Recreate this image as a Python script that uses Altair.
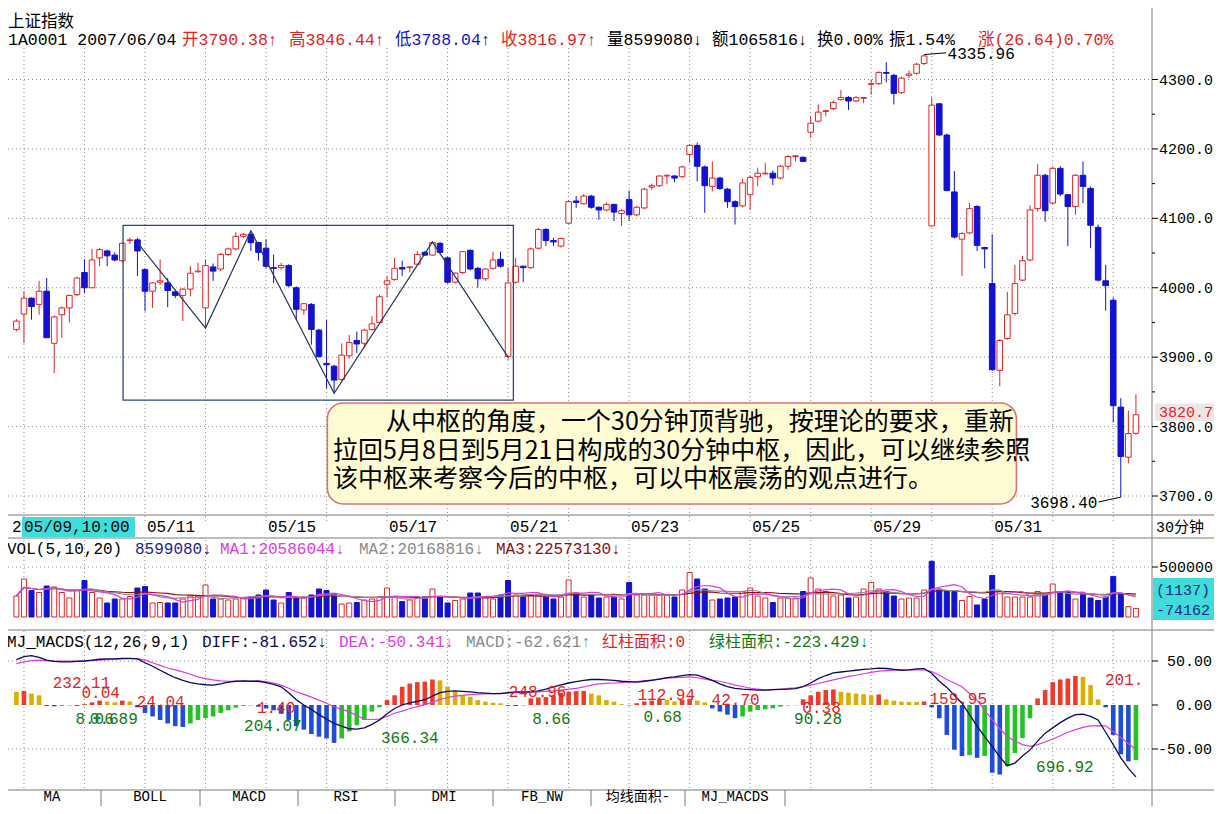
import altair as alt
import pandas as pd
import numpy as np

# ------------------------------------------------------------------ data
opens = [3940, 3962, 3985, 3976, 3995, 3920, 3961, 3971, 3990, 4022,
         4000, 4043, 4053, 4047, 4039, 4068, 4069, 4026, 3995, 4008,
         4007, 3994, 3989, 3998, 4023, 3971, 4030, 4027, 4048, 4056,
         4074, 4077, 4065, 4057, 4029, 4029, 4032, 4000, 3968, 3976,
         3939, 3891, 3887, 3868, 3902, 3924, 3920, 3940, 3950, 4005,
         4012, 4029, 4029, 4034, 4051, 4047, 4064, 4043, 4008, 4022,
         4054, 4028, 4013, 4028, 4041, 3901, 4008, 4031, 4029, 4057,
         4084, 4068, 4060, 4093, 4125, 4121, 4132, 4116, 4112, 4120,
         4107, 4127, 4105, 4115, 4145, 4147, 4161, 4161, 4160, 4192,
         4205, 4174, 4146, 4158, 4142, 4124, 4118, 4134, 4160, 4164,
         4165, 4158, 4175, 4189, 4188, 4224, 4240, 4254, 4258, 4271,
         4274, 4269, 4273, 4293, 4294, 4310, 4306, 4281, 4306, 4309,
         4323, 4089, 4265, 4220, 4138, 4070, 4079, 4117, 4058, 4006,
         3881, 3927, 3963, 4011, 4040, 4114, 4162, 4122, 4172, 4134,
         4117, 4162, 4143, 4087, 4010, 3982, 3828, 3756, 3790.38]
highs = [3955, 3995, 3986, 4010, 4014, 3960, 3973, 3990, 4016, 4041,
         4056, 4057, 4055, 4051, 4066, 4072, 4072, 4028, 4008, 4041,
         4014, 3997, 4000, 4031, 4036, 4041, 4035, 4050, 4058, 4080,
         4079, 4082, 4066, 4070, 4048, 4036, 4034, 4002, 3978, 3978,
         3941, 3954, 3889, 3920, 3932, 3937, 3941, 3959, 3990, 4017,
         4043, 4039, 4031, 4053, 4053, 4066, 4066, 4045, 4022, 4053,
         4055, 4030, 4028, 4052, 4052, 4029, 4043, 4032, 4058, 4086,
         4086, 4072, 4072, 4126, 4132, 4135, 4134, 4117, 4123, 4121,
         4113, 4140, 4118, 4144, 4150, 4162, 4163, 4162, 4176, 4207,
         4209, 4176, 4182, 4160, 4144, 4126, 4157, 4162, 4173, 4180,
         4169, 4177, 4191, 4191, 4189, 4247, 4264, 4256, 4270, 4285,
         4276, 4276, 4275, 4300, 4312, 4325, 4308, 4304, 4313, 4324,
         4335.96, 4274, 4266, 4222, 4168, 4080, 4122, 4119, 4059, 4077,
         3926, 3994, 4033, 4046, 4119, 4178, 4164, 4175, 4175, 4135,
         4164, 4182, 4146, 4091, 4033, 3986, 3841, 3823, 3846.44]
lows = [3937, 3920, 3954, 3961, 3928, 3877, 3928, 3950, 3988, 3992,
        4000, 4031, 4031, 4038, 4036, 4063, 4017, 3966, 3971, 4004,
        3972, 3985, 3952, 3988, 4022, 3942, 4010, 4024, 4046, 4054,
        4072, 4053, 4039, 4028, 4007, 4026, 4001, 3954, 3961, 3918,
        3899, 3855, 3848, 3866, 3898, 3906, 3913, 3938, 3949, 3986,
        4010, 4017, 4022, 4032, 4046, 4046, 4049, 4006, 4006, 4020,
        4025, 4000, 4010, 4026, 4029, 3896, 4006, 4008, 4027, 4055,
        4060, 4060, 4058, 4092, 4115, 4120, 4114, 4098, 4110, 4096,
        4089, 4096, 4103, 4113, 4141, 4145, 4149, 4152, 4158, 4180,
        4153, 4108, 4139, 4141, 4115, 4091, 4116, 4112, 4146, 4163,
        4148, 4156, 4170, 4182, 4181, 4216, 4238, 4247, 4256, 4270,
        4256, 4267, 4266, 4278, 4292, 4296, 4264, 4279, 4302, 4307,
        4321, 4088, 4219, 4139, 4071, 4017, 4077, 4053, 4028, 3880,
        3858, 3925, 3960, 4009, 4038, 4110, 4095, 4120, 4132, 4060,
        4105, 4122, 4057, 4009, 3967, 3806, 3698.40, 3747, 3788.04]
closes = [3952, 3985, 3973, 3995, 3928, 3958, 3971, 3989, 4014, 4000,
          4040, 4055, 4046, 4040, 4064, 4069, 4053, 3995, 4007, 4010,
          3996, 3989, 3998, 4021, 4024, 4032, 4024, 4048, 4056, 4074,
          4077, 4065, 4051, 4031, 4028, 4032, 4003, 3969, 3977, 3940,
          3901, 3889, 3867, 3903, 3921, 3919, 3939, 3948, 3987, 4010,
          4028, 4027, 4030, 4048, 4047, 4065, 4051, 4008, 4021, 4052,
          4027, 4013, 4027, 4040, 4031, 4007, 4031, 4029, 4056, 4084,
          4068, 4066, 4071, 4124, 4123, 4132, 4116, 4112, 4120, 4109,
          4111, 4105, 4116, 4142, 4147, 4161, 4162, 4158, 4174, 4205,
          4175, 4147, 4158, 4143, 4124, 4117, 4151, 4159, 4165, 4165,
          4158, 4175, 4189, 4190, 4182, 4237, 4253, 4255, 4267, 4274,
          4269, 4274, 4274, 4294, 4310, 4309, 4280, 4302, 4308, 4322,
          4334, 4263, 4220, 4140, 4073, 4078, 4114, 4061, 4056, 3882,
          3924, 3961, 4006, 4039, 4112, 4162, 4111, 4172, 4135, 4117,
          4162, 4146, 4090, 4011, 4003, 3830, 3757, 3790, 3816.97]
# volume in units of 10,000 lots
vol_10k = [21, 38, 26.5, 24.5, 31, 30, 24.5, 19, 26.5, 36.5,
           24.5, 19, 14, 18, 18, 20.5, 29, 30.5, 14, 14.5,
           14, 14, 18, 21, 21, 32, 18, 18, 17, 18,
           19, 20, 22, 27, 17, 14, 24.5, 19, 20, 22,
           28, 26.5, 23, 13, 14, 14.5, 17, 18, 20, 29,
           20, 15.5, 17, 20, 20, 28, 20, 14, 16.5, 18,
           24, 24, 20, 18, 22, 36.5, 22, 20, 22, 22,
           20, 18, 20, 37, 24, 20, 22, 19, 20, 20,
           18, 34.5, 22, 22, 22, 22, 22, 20, 27, 44.5,
           38, 28, 17, 18, 19, 20, 25.5, 29, 21, 19,
           14.5, 19, 19, 19, 25.5, 39, 28, 25.5, 21, 22,
           19, 20, 28, 34.5, 28, 25.5, 21, 18, 19, 19,
           27, 55.7, 28, 25.5, 25.5, 16.5, 20.5, 12, 18, 41.6,
           25.5, 20, 20, 20, 20, 25.5, 22, 33, 25.5, 24.5,
           18, 23, 19, 16.5, 20, 40.6, 23, 10.4, 8.6]
diff_vals = [51.5, 55, 56, 54, 51, 49.5, 49, 49, 49.5, 50,
             51, 52, 52.5, 52.5, 53, 53, 52.5, 48, 44, 39.5,
             35, 31, 28, 25.5, 24, 23, 22.6, 24, 26, 27,
             27.5, 27, 27, 25.5, 23.5, 20.7, 14, 6, 0, -5,
             -11, -16, -21, -24, -27, -27.5, -26, -22, -17, -10,
             -4, 0, 2.5, 4, 6, 10, 14, 15.5, 16, 15.5,
             15, 14, 13.5, 13, 13, 14, 15, 15, 15, 16,
             18, 20.7, 23, 25, 26.5, 28, 29, 29, 28.5, 28,
             27, 26.5, 26, 27, 28, 29.5, 31, 32, 33.5, 34.6,
             34, 31, 28, 24, 21, 19, 18, 17.5, 17, 17,
             17.5, 17.7, 18, 18.5, 21, 25, 30, 33.5, 36.5, 37.5,
             38.5, 39.5, 40.5, 41, 42, 41.5, 40.5, 39.5, 40, 41,
             41.4, 36, 27, 20, 11, 2, -11, -24, -36, -47,
             -59, -69, -66, -58, -51, -41, -32, -26, -20, -15,
             -11, -10.5, -13, -17, -31, -45, -60, -72, -81.652]
dea_vals = [47, 49, 50.5, 51, 50.5, 50, 50, 50, 50, 50,
            50.5, 51, 51.5, 52, 52.5, 52.6, 52.6, 51, 48, 45,
            42, 40, 37.6, 35, 32, 30, 28.5, 27.5, 27, 27,
            27, 27, 27.4, 26.5, 25, 22.6, 19, 15, 12, 9,
            5.6, 2, -2, -5, -7.5, -12, -16, -16.5, -16, -13,
            -9.4, -7, -4, -1.9, 0.5, 3, 6.4, 8.5, 10, 11,
            11.8, 12.4, 12.7, 13, 13.3, 13.6, 14, 14.3, 14.6, 15,
            15.5, 16, 17, 18, 18.8, 20.5, 22.6, 24, 24.5, 25,
            25.5, 26, 26.5, 27.5, 28.5, 29.5, 30.5, 31, 31.5, 32,
            31, 29.5, 28, 27, 25, 22.6, 21, 19, 18, 17,
            17.5, 18, 18.8, 19.6, 21, 22.5, 24.4, 26.5, 28.5, 30.5,
            32.5, 33.8, 35.5, 37, 38.5, 39, 39.5, 39.8, 40, 40,
            40, 38, 33.8, 29, 25, 20.7, 13, 5.6, -6, -17,
            -27, -35.7, -41, -45, -47, -45, -42, -38.7, -35, -31,
            -28, -25.5, -23.7, -23.5, -23.7, -30, -37, -44, -50.341]
macd_vals = [15, 16, 13, 11, -1, -1.5, -1, -0.5, -1, 1,
             3, 5, 4, 3, 5, 4, -2.6, -9, -13, -17,
             -21, -24, -25, -21, -17, -15, -13, -9, -6, -3,
             -1, -0.5, -2, -4, -6, -10, -17, -24, -28, -33,
             -36, -38, -43, -38, -30, -23, -17, -7.5, -2.6, 5.6,
             11, 20.7, 24.4, 26, 26.5, 29, 28, 21, 15, 11,
             9.4, 5.6, 3.8, 2.6, 1.9, -1, -1.2, -0.5, 7.5, 8.6,
             9, 11, 14, 15, 15.8, 16, 13, 11, 5.6, 3.8,
             1, -0.5, 2, 4, 5, 6, 5.6, 4, 6, 7,
             5, 3, -3.8, -7.5, -11, -15, -13, -7.5, -5.6, -4.9,
             -3.8, -1.9, -0.5, -0.3, 6.4, 11, 15, 17, 17.7, 15,
             14, 13, 12.4, 11, 12, 6.4, 4.9, 3.8, 3.6, 3.5,
             4, -2.6, -15, -34, -50.8, -58, -57, -60, -58, -77,
             -79, -69.6, -54.5, -37.6, -15, 7.5, 17, 26, 29, 30,
             33, 32, 22.6, 6.4, -2.6, -34, -56, -64, -62.621]

day_starts = [1, 9, 17, 25, 33, 41, 49, 57, 65, 73, 81, 89, 97, 105, 113, 121, 129, 137, 145]
date_tick_idx = [17, 33, 49, 65, 81, 97, 113, 129]
date_tick_labels = ["05/11", "05/15", "05/17", "05/21", "05/23", "05/25", "05/29", "05/31"]
price_ticks = [3700, 3800, 3900, 4000, 4100, 4200, 4300]
price_tick_labels = ["3700.0", "3800.0", "3900.0", "4000.0", "4100.0", "4200.0", "4300.0"]
price_minor = [3750, 3850, 3950, 4050, 4150, 4250]
vol_ticks = [500000]
vol_tick_labels = ["500000"]
macd_ticks = [50, 0, -50]
macd_tick_labels = ["50.00", "0.00", "-50.00"]

zig_idx = [16, 25, 31, 42, 55, 65]
zig_price = [4065, 3942, 4082, 3848, 4066, 3900]
box_idx = [14.1, 65.7]
box_price = [4090, 3838]
callout_idx = [41.1, 132.2]
callout_price = [3834, 3688.5]
callout_lines = ["从中枢的角度，一个30分钟顶背驰，按理论的要求，重新",
                 "拉回5月8日到5月21日构成的30分钟中枢，因此，可以继续参照",
                 "该中枢来考察今后的中枢，可以中枢震荡的观点进行。"]

hi_idx, hi_price, hi_label = 120, 4335.96, "4335.96"
lo_idx, lo_price, lo_label = 146, 3698.40, "3698.40"
last_price, last_label = 3820.71, "3820.7"

area_labels = ["232.11", "0.04", "24.04", "8.06", "0.689", "1.40", "204.07", "366.34",
               "248.96", "8.66", "112.94", "0.68", "42.70", "0.38", "90.28", "159.95",
               "696.92", "201."]
area_idx = [4.8, 8.6, 15.9, 7.8, 9.7, 31.8, 30.1, 48.2,
            65.1, 68.2, 82.1, 82.9, 91.9, 103.9, 102.8, 120.7,
            134.8, 143.9]
area_val = [25, 13.6, 3.4, -15.9, -15.9, -3.4, -23.9, -37.5,
            14.8, -15.9, 11.4, -13.6, 5.7, -3.4, -15.9, 6.8,
            -70.5, 28.4]
area_kind = ["r", "r", "r", "g", "g", "r", "g", "g",
             "r", "g", "r", "g", "r", "r", "g", "r",
             "g", "r"]

header_segments = ["1A0001 2007/06/04", "开3790.38↑", "高3846.44↑", "低3788.04↑", "收3816.97↑",
                   "量8599080↓", "额1065816↓", "换0.00%", "振1.54%", "涨(26.64)0.70%"]
vol_title = ["VOL(5,10,20)", "8599080↓", "MA1:20586044↓", "MA2:20168816↓", "MA3:22573130↓"]
macd_title = ["MJ_MACDS(12,26,9,1)", "DIFF:-81.652↓", "DEA:-50.341↓", "MACD:-62.621↑",
              "红柱面积:0", "绿柱面积:-223.429↓"]
tabs = ["MA", "BOLL", "MACD", "RSI", "DMI", "FB_NW", "均线面积-", "MJ_MACDS"]

# ------------------------------------------------------------------ style
RED = "#E82222"
BLUE = "#1212D0"
MRED = "#F03A2A"
MGOLD = "#DDAE00"
MBLUE = "#1E4CDC"
MGREEN = "#22C322"
NAVY = "#0A0A60"
MAG = "#E23AE2"
GRID = "#8C8C8C"
FRAME = "#7A7A7A"
MONO = "Liberation Mono, Noto Sans CJK SC"
CJK = "Noto Sans CJK SC"

W, H = 1206, 798
N = len(closes)
X0, STEP = 3.4, 7.632
xs = alt.Scale(domain=[0, N - 1], range=[X0, X0 + STEP * (N - 1)], nice=False, zero=False)
ps = alt.Scale(domain=[3700, 4300], range=[488, 71.5], nice=False, zero=False)
vs = alt.Scale(domain=[0, 500000], range=[609, 559], nice=False, zero=False)
ms = alt.Scale(domain=[-50, 50], range=[741, 653], nice=False, zero=False)
XI = alt.X("i:Q", scale=xs, axis=None)

ONE = pd.DataFrame({"k": [0]})


def T(s, x, y, color="#000000", size=16, font=MONO, align="left", baseline="middle"):
    return alt.Chart(ONE).mark_text(text=s, align=align, baseline=baseline, font=font,
                                    fontSize=size, color=color).encode(
        x=alt.value(x - 8), y=alt.value(y - 8))


def HR(y, x1, x2, color=FRAME, w=1):
    return alt.Chart(ONE).mark_rule(color=color, strokeWidth=w).encode(
        x=alt.value(x1 - 8), x2=alt.value(x2 - 8), y=alt.value(y - 8))


def VR(x, y1, y2, color=FRAME, w=1):
    return alt.Chart(ONE).mark_rule(color=color, strokeWidth=w).encode(
        x=alt.value(x - 8), y=alt.value(y1 - 8), y2=alt.value(y2 - 8))


def RECT(x1, y1, x2, y2, fill, stroke=None, sw=1):
    kw = dict(fill=fill)
    if stroke:
        kw.update(stroke=stroke, strokeWidth=sw)
    return alt.Chart(ONE).mark_rect(**kw).encode(
        x=alt.value(x1 - 8), x2=alt.value(x2 - 8), y=alt.value(y1 - 8), y2=alt.value(y2 - 8))


# ------------------------------------------------------------------ frames
df = pd.DataFrame({"i": range(N), "o": opens, "h": highs, "l": lows, "c": closes,
                   "vol": np.array(vol_10k) * 10000, "diff": diff_vals, "dea": dea_vals,
                   "macd": macd_vals})
up = df.c >= df.o
df["col"] = np.where(up, RED, BLUE)
df["fil"] = np.where(up, "#FFFFFF", BLUE)
prev_c = df.c.shift(1).fillna(df.o)
vup = df.c >= prev_c
df["vcol"] = np.where(vup, RED, BLUE)
df["vfil"] = np.where(vup, "#FFFFFF", BLUE)
prev_m = df.macd.shift(1).fillna(df.macd + 1)
df["mcol"] = np.where(df.macd >= 0, np.where(df.macd >= prev_m, MRED, MGOLD),
                      np.where(df.macd <= prev_m, MBLUE, MGREEN))

layers = []

# grids
days = pd.DataFrame({"i": day_starts})
for (a, b) in [(48, 515), (516, 522), (540, 618), (631, 790)]:
    layers.append(alt.Chart(days).mark_rule(color=GRID, strokeDash=[1, 3]).encode(
        x=XI, y=alt.value(a - 8), y2=alt.value(b - 8)))
pt = pd.DataFrame({"p": price_ticks, "t": price_tick_labels})
layers.append(alt.Chart(pt).mark_rule(color=GRID, strokeDash=[1, 3]).encode(
    y=alt.Y("p:Q", scale=ps, axis=None), x=alt.value(0), x2=alt.value(1143)))
vt = pd.DataFrame({"v": vol_ticks, "t": vol_tick_labels})
layers.append(alt.Chart(vt).mark_rule(color=GRID, strokeDash=[1, 3]).encode(
    y=alt.Y("v:Q", scale=vs, axis=None), x=alt.value(0), x2=alt.value(1143)))
mt = pd.DataFrame({"m": macd_ticks, "t": macd_tick_labels})
layers.append(alt.Chart(mt[mt.m != 0]).mark_rule(color=GRID, strokeDash=[1, 3]).encode(
    y=alt.Y("m:Q", scale=ms, axis=None), x=alt.value(0), x2=alt.value(1143)))

# candles
layers.append(alt.Chart(df).mark_rule(strokeWidth=1).encode(
    x=XI, y=alt.Y("l:Q", scale=ps, axis=None), y2="h:Q", color=alt.Color("col:N", scale=None)))
layers.append(alt.Chart(df).mark_bar(size=5.6, strokeWidth=1).encode(
    x=XI, y=alt.Y("o:Q", scale=ps, axis=None), y2="c:Q",
    fill=alt.Fill("fil:N", scale=None), stroke=alt.Stroke("col:N", scale=None)))

# zigzag and box
zz = pd.DataFrame({"i": zig_idx, "p": zig_price})
layers.append(alt.Chart(zz).mark_line(color="#25355F", strokeWidth=1.2).encode(
    x=XI, y=alt.Y("p:Q", scale=ps, axis=None), order="i:Q"))
bx = pd.DataFrame({"i1": [box_idx[0]], "i2": [box_idx[1]], "p1": [box_price[0]], "p2": [box_price[1]]})
layers.append(alt.Chart(bx).mark_rect(fillOpacity=0, stroke="#2C4A78", strokeWidth=1.3).encode(
    x=alt.X("i1:Q", scale=xs, axis=None), x2="i2:Q",
    y=alt.Y("p1:Q", scale=ps, axis=None), y2="p2:Q"))

# high / low annotations
hl = pd.DataFrame({"i": [hi_idx, hi_idx + 2.9], "p": [hi_price, hi_price + 2.5]})
layers.append(alt.Chart(hl).mark_line(color="#000000", strokeWidth=1).encode(
    x=XI, y=alt.Y("p:Q", scale=ps, axis=None)))
layers.append(alt.Chart(pd.DataFrame({"i": [hi_idx + 3.1], "p": [hi_price + 1], "t": [hi_label]}))
              .mark_text(align="left", baseline="middle", font=MONO, fontSize=16, color="#000000")
              .encode(x=XI, y=alt.Y("p:Q", scale=ps, axis=None), text="t:N"))
ll = pd.DataFrame({"i": [lo_idx - 2.95, lo_idx], "p": [lo_price - 7, lo_price]})
layers.append(alt.Chart(ll).mark_line(color="#000000", strokeWidth=1).encode(
    x=XI, y=alt.Y("p:Q", scale=ps, axis=None)))
layers.append(alt.Chart(pd.DataFrame({"i": [lo_idx - 3.1], "p": [lo_price - 9], "t": [lo_label]}))
              .mark_text(align="right", baseline="middle", font=MONO, fontSize=16, color="#000000")
              .encode(x=XI, y=alt.Y("p:Q", scale=ps, axis=None), text="t:N"))

# callout
co = pd.DataFrame({"i1": [callout_idx[0]], "i2": [callout_idx[1]],
                   "p1": [callout_price[0]], "p2": [callout_price[1]]})
layers.append(alt.Chart(co).mark_rect(cornerRadius=16, fill="#FFFBD2", stroke="#E07272", strokeWidth=1.6).encode(
    x=alt.X("i1:Q", scale=xs, axis=None), x2="i2:Q",
    y=alt.Y("p1:Q", scale=ps, axis=None), y2="p2:Q"))
layers.append(T(callout_lines[0], 386, 422, size=25, font=CJK))
layers.append(T(callout_lines[1], 333, 451, size=25, font=CJK))
layers.append(T(callout_lines[2], 333, 479, size=25, font=CJK))

# volume
layers.append(alt.Chart(df).mark_bar(size=5, strokeWidth=1).encode(
    x=XI, y=alt.Y("vol:Q", scale=vs, axis=None), y2=alt.datum(0),
    fill=alt.Fill("vfil:N", scale=None), stroke=alt.Stroke("vcol:N", scale=None)))
for n_ma, colr in [(20, "#8B1010"), (10, "#8C8C8C"), (5, MAG)]:
    layers.append(alt.Chart(df).transform_window(
        ma="mean(vol)", frame=[-(n_ma - 1), 0], sort=[alt.SortField("i")]
    ).mark_line(color=colr, strokeWidth=1.2).encode(x=XI, y=alt.Y("ma:Q", scale=vs, axis=None)))

# macd
layers.append(alt.Chart(df).mark_bar(size=4.6).encode(
    x=XI, y=alt.Y("macd:Q", scale=ms, axis=None), y2=alt.datum(0),
    color=alt.Color("mcol:N", scale=None)))
layers.append(alt.Chart(df).mark_line(color=MAG, strokeWidth=1.2).encode(
    x=XI, y=alt.Y("dea:Q", scale=ms, axis=None)))
layers.append(alt.Chart(df).mark_line(color=NAVY, strokeWidth=1.3).encode(
    x=XI, y=alt.Y("diff:Q", scale=ms, axis=None)))
al = pd.DataFrame({"i": area_idx, "m": area_val, "t": area_labels,
                   "c": [RED if k == "r" else "#127A12" for k in area_kind]})
layers.append(alt.Chart(al).mark_text(align="left", baseline="middle", font=MONO, fontSize=16).encode(
    x=XI, y=alt.Y("m:Q", scale=ms, axis=None), text="t:N", color=alt.Color("c:N", scale=None)))

# right column cover + frame lines
layers.append(RECT(1152, 8, 1222, 790, "#FFFFFF"))
layers.append(VR(1152, 8, 814))
for yy in [515, 538, 630, 790]:
    layers.append(HR(yy, 8, 1222))

# price axis
layers.append(alt.Chart(pt).mark_rule(color="#000000").encode(
    y=alt.Y("p:Q", scale=ps, axis=None), x=alt.value(1144), x2=alt.value(1150)))
layers.append(alt.Chart(pd.DataFrame({"p": price_minor})).mark_rule(color="#000000").encode(
    y=alt.Y("p:Q", scale=ps, axis=None), x=alt.value(1144), x2=alt.value(1147)))
layers.append(alt.Chart(pt).mark_text(align="left", baseline="middle", font=MONO, fontSize=15).encode(
    y=alt.Y("p:Q", scale=ps, axis=None), x=alt.value(1151), text="t:N"))
lp = pd.DataFrame({"p": [last_price], "t": [last_label]})
layers.append(alt.Chart(lp).mark_rect(fill="#ECE6E6").encode(
    y=alt.Y("p:Q", scale=ps, axis=None), y2=alt.datum(last_price + 12.5),
    x=alt.value(1147), x2=alt.value(1206)))
layers.append(alt.Chart(lp).mark_rect(fill="#ECE6E6").encode(
    y=alt.Y("p:Q", scale=ps, axis=None), y2=alt.datum(last_price - 12.5),
    x=alt.value(1147), x2=alt.value(1206)))
layers.append(alt.Chart(lp).mark_text(align="left", baseline="middle", font=MONO, fontSize=15, color=RED).encode(
    y=alt.Y("p:Q", scale=ps, axis=None), x=alt.value(1151), text="t:N"))

# volume axis
layers.append(alt.Chart(vt).mark_rule(color="#000000").encode(
    y=alt.Y("v:Q", scale=vs, axis=None), x=alt.value(1144), x2=alt.value(1150)))
layers.append(alt.Chart(vt).mark_text(align="left", baseline="middle", font=MONO, fontSize=15).encode(
    y=alt.Y("v:Q", scale=vs, axis=None), x=alt.value(1151), text="t:N"))
layers.append(RECT(1153, 578, 1222, 620, "#3FDCDC"))
layers.append(T("(1137)", 1183, 590, color="#1A2A7A", align="center", size=15))
layers.append(T("-74162", 1183, 610, color="#1A2A7A", align="center", size=15))

# macd axis
layers.append(alt.Chart(mt).mark_rule(color="#000000").encode(
    y=alt.Y("m:Q", scale=ms, axis=None), x=alt.value(1144), x2=alt.value(1150)))
layers.append(alt.Chart(mt).mark_text(align="right", baseline="middle", font=MONO, fontSize=15).encode(
    y=alt.Y("m:Q", scale=ms, axis=None), x=alt.value(1204), text="t:N"))

# header
layers.append(T("上证指数", 8, 22, size=16.5, font=CJK))
hx = [8, 182, 289, 395, 501, 607, 712, 817, 889, 978]
hc = ["#000000", RED, RED, BLUE, RED, "#000000", "#000000", "#000000", "#000000", RED]
for s, x, c in zip(header_segments, hx, hc):
    layers.append(T(s, x, 40, color=c, size=16.5))

# date row
layers.append(T("2", 12, 527))
layers.append(RECT(22, 517, 135, 537, "#3FDCDC"))
layers.append(T("05/09,10:00", 24, 527))
dt = pd.DataFrame({"i": date_tick_idx, "t": date_tick_labels})
layers.append(alt.Chart(dt).mark_text(align="left", baseline="middle", font=MONO, fontSize=16, dx=2).encode(
    x=XI, y=alt.value(527 - 8), text="t:N"))
layers.append(T("30分钟", 1156, 527, size=15))

# volume title
vx = [7, 135, 220, 359, 496]
vc = ["#000000", "#1E1E8C", MAG, "#8A8A8A", "#8B1010"]
for s, x, c in zip(vol_title, vx, vc):
    layers.append(T(s, x, 549, color=c))

# macd title
mx = [7, 202, 339, 466, 602, 709]
mc = ["#000000", NAVY, MAG, "#8A8A8A", RED, "#127A12"]
for s, x, c in zip(macd_title, mx, mc):
    layers.append(T(s, x, 642, color=c))

# tabs
tab_sep = [101, 200, 298, 395, 493, 591, 685, 785]
tab_ctr = [52, 150, 249, 346, 444, 542, 638, 735]
for x in tab_sep:
    layers.append(VR(x, 790, 814))
for s, x in zip(tabs, tab_ctr):
    layers.append(T(s, x, 797, align="center", size=14))

chart = alt.layer(*layers).resolve_scale(y="independent").properties(
    width=W, height=H, autosize=alt.AutoSizeParams(type="none"), padding=0,
    background="#FFFFFF").configure_view(stroke=None)

chart.save("out.html", embed_options={"renderer": "svg", "actions": False})
